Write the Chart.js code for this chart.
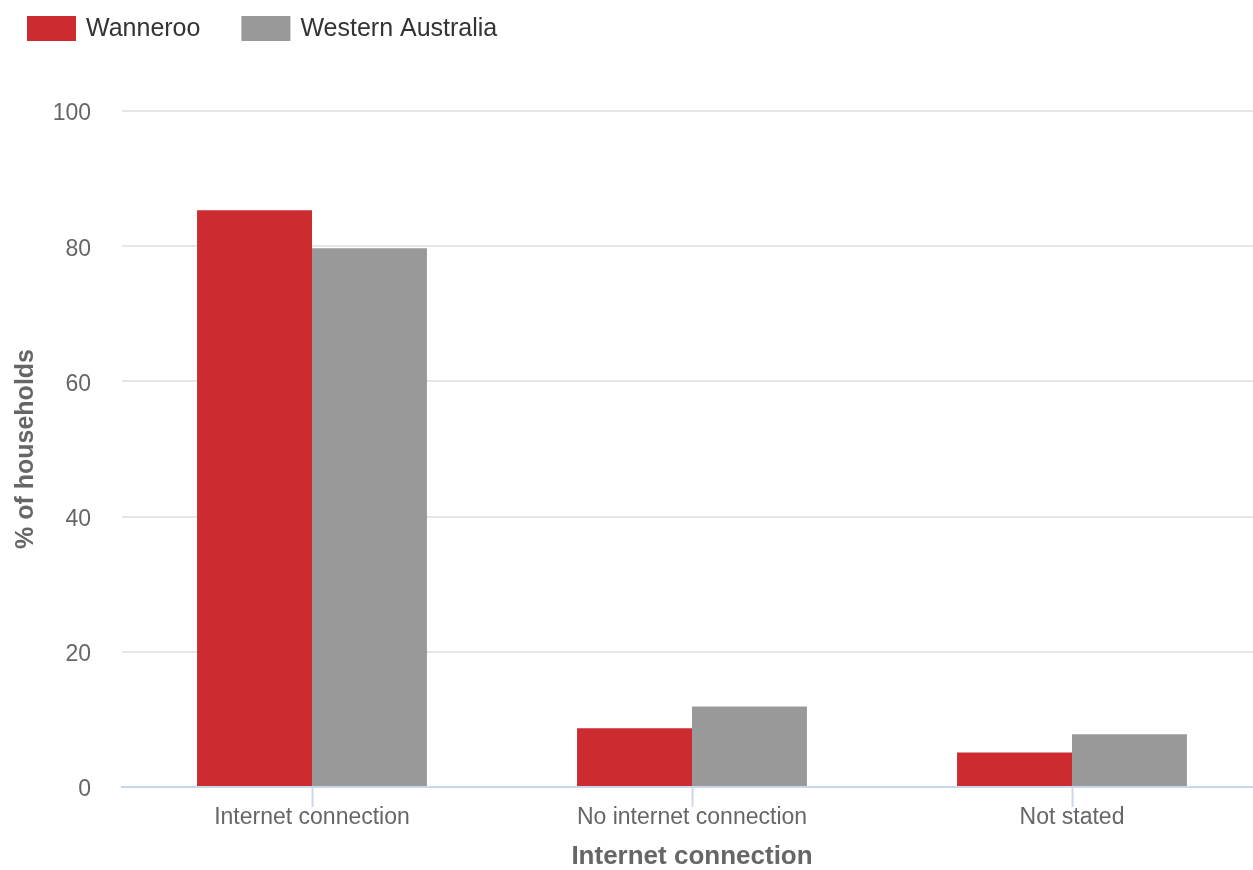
<!DOCTYPE html>
<html>
<head>
<meta charset="utf-8">
<script src="https://cdn.jsdelivr.net/npm/chart.js@4/dist/chart.umd.min.js"></script>
<style>
  html, body { margin: 0; padding: 0; background: #fff; overflow: hidden; }
  /* plot area runs a little past the right edge, as in the original */
  #wrap { width: 1262px; height: 870px; position: relative; }
</style>
</head>
<body>
<div id="wrap"><canvas id="myChart"></canvas></div>
<script>
const categories = ["Internet connection", "No internet connection", "Not stated"];
const wanneroo = [85.3, 8.7, 5.1];
const westernAustralia = [79.7, 11.9, 7.8];
const yTicks = [0, 20, 40, 60, 80, 100];

const FONT = "'Liberation Sans', Arial, Helvetica, sans-serif";

// legend drawn by hand so the box spacing matches the original
const topLegend = {
    id: "topLegend",
    afterDraw(chart) {
        const ctx = chart.ctx;
        let x = 27;
        ctx.save();
        ctx.font = "25px " + FONT;
        ctx.textBaseline = "middle";
        chart.data.datasets.forEach(ds => {
            ctx.fillStyle = ds.backgroundColor;
            ctx.fillRect(x, 16, 49, 25);
            ctx.fillStyle = "#333333";
            ctx.fillText(ds.label, x + 59, 29.5);
            x += 59 + ctx.measureText(ds.label).width + 41;
        });
        ctx.restore();
    }
};

new Chart("myChart", {
    type: "bar",
    data: {
        labels: categories,
        datasets: [{
            label: "Wanneroo",
            data: wanneroo,
            backgroundColor: "#cc2b30"
        }, {
            label: "Western Australia",
            data: westernAustralia,
            backgroundColor: "#999999"
        }]
    },
    plugins: [topLegend],
    options: {
        responsive: true,
        maintainAspectRatio: false,
        animation: false,
        layout: { padding: { top: 111, right: 0, bottom: 0, left: 0 } },
        datasets: {
            bar: { categoryPercentage: 0.605, barPercentage: 1 }
        },
        plugins: {
            legend: { display: false },
            tooltip: { enabled: false }
        },
        scales: {
            x: {
                grid: {
                    offset: false,
                    drawOnChartArea: false,
                    drawTicks: true,
                    tickLength: 20,
                    tickColor: "#ccd6eb",
                    tickWidth: 2
                },
                border: { color: "#ccd6eb", width: 2 },
                ticks: {
                    color: "#666666",
                    padding: -3,
                    font: { family: FONT, size: 23 }
                },
                afterFit: s => { s.height = 83; },
                title: {
                    display: true,
                    text: "Internet connection",
                    color: "#666666",
                    padding: { top: 0, bottom: 0 },
                    font: { family: FONT, size: 26, weight: "bold", lineHeight: 1.0 }
                }
            },
            y: {
                min: 0,
                max: 100,
                afterBuildTicks: s => { s.ticks = yTicks.map(v => ({ value: v })); },
                grid: {
                    color: "#e6e6e6",
                    lineWidth: 2,
                    drawTicks: false
                },
                border: { display: false },
                ticks: {
                    color: "#666666",
                    padding: 31,
                    labelOffset: 3,
                    font: { family: FONT, size: 23 }
                },
                afterFit: s => { s.width = 122; },
                title: {
                    display: true,
                    text: "% of households",
                    color: "#666666",
                    padding: { top: 11, bottom: 0 },
                    font: { family: FONT, size: 25, weight: "bold" }
                }
            }
        }
    }
});
</script>
</body>
</html>
